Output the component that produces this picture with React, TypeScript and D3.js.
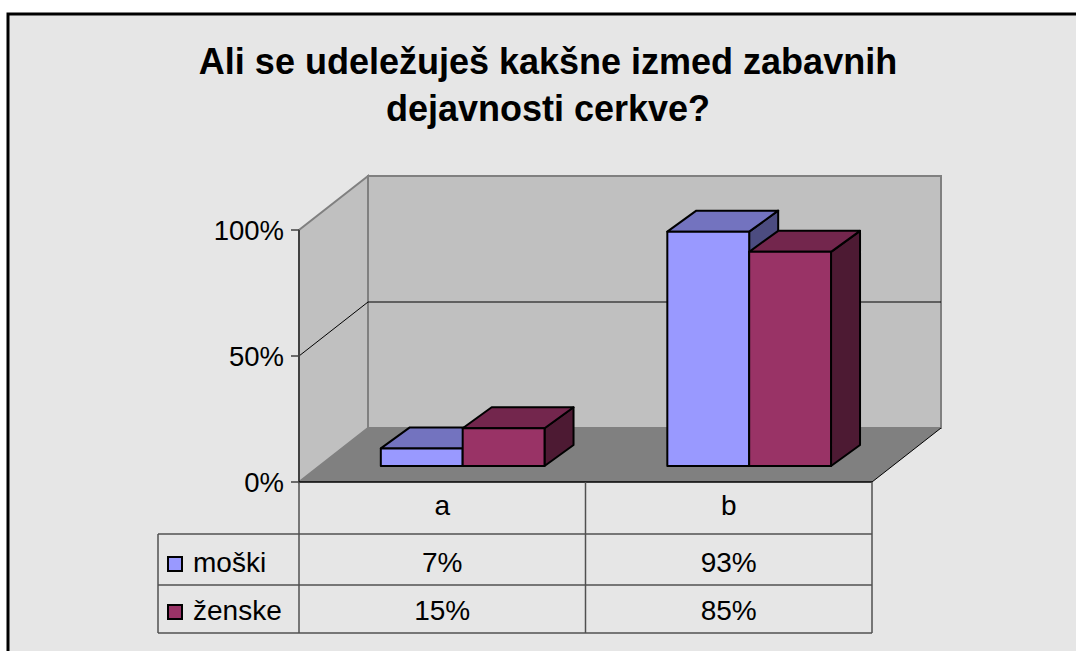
import * as d3 from "d3";

const categories = ["a", "b"];
const seriesNames = ["moški", "ženske"];
const moski = [0.07, 0.93];
const zenske = [0.15, 0.85];
const yTicks = [0, 0.5, 1];
const titleLines = ["Ali se udeležuješ kakšne izmed zabavnih", "dejavnosti cerkve?"];

const seriesValues = [moski, zenske];
const fills = [
  { front: "#9999ff", top: "#7373bf", side: "#4c4c80" },
  { front: "#993366", top: "#73264d", side: "#4d1a33" },
];

const FONT = "'Liberation Sans', Arial, sans-serif";

// plot geometry (oblique 3D)
const X0 = 299;
const X1 = 872;
const Y0 = 482;
const H = 252;
const DX = 69;
const DY = -54;
const D1 = 0.296; // bar front depth
const BDX = 29;
const BDY = -21;

export default function App() {
  const x = d3
    .scaleBand<string>()
    .domain(categories)
    .range([0, X1 - X0])
    .paddingInner(3 / 7)
    .paddingOuter(1.5 / 7);
  const xs = d3.scaleBand<number>().domain([0, 1]).range([0, x.bandwidth()]);
  const y = d3.scaleLinear().domain([0, 1]).range([0, H]);
  const colEdges = d3.scaleBand<string>().domain(categories).range([X0, X1]);

  const proj = (fx: number, v: number, d: number): [number, number] => [
    X0 + fx + DX * d,
    Y0 - v + DY * d,
  ];
  const pts = (p: [number, number][]) => p.map((q) => q.join(",")).join(" ");

  const back = [proj(0, 0, 1), proj(X1 - X0, 0, 1), proj(X1 - X0, H, 1), proj(0, H, 1)];
  const left = [proj(0, 0, 0), proj(0, 0, 1), proj(0, H, 1), proj(0, H, 0)];
  const floor = [proj(0, 0, 0), proj(X1 - X0, 0, 0), proj(X1 - X0, 0, 1), proj(0, 0, 1)];

  const bars: JSX.Element[] = [];
  categories.forEach((c, ci) => {
    seriesValues.forEach((vals, si) => {
      const [xl, yb] = proj((x(c) ?? 0) + (xs(si) ?? 0), 0, D1);
      const xr = xl + xs.bandwidth();
      const yt = yb - y(vals[ci]);
      const f = fills[si];
      bars.push(
        <g key={`${c}-${si}`} stroke="#000" strokeWidth={2} strokeLinejoin="round">
          <polygon
            points={pts([[xr, yt], [xr + BDX, yt + BDY], [xr + BDX, yb + BDY], [xr, yb]])}
            fill={f.side}
          />
          <polygon
            points={pts([[xl, yt], [xr, yt], [xr + BDX, yt + BDY], [xl + BDX, yt + BDY]])}
            fill={f.top}
          />
          <rect x={xl} y={yt} width={xr - xl} height={yb - yt} fill={f.front} />
        </g>
      );
    });
  });

  const tableLeft = 158;
  const rowY = [482, 534, 585, 633];
  const lineColor = "#505050";

  return (
    <svg
      width={1076}
      height={651}
      style={{ position: "absolute", left: 0, top: 0, background: "#fff", overflow: "hidden" }}
      fontFamily={FONT}
    >
      <rect x={8} y={14} width={1200} height={800} fill="#e6e6e6" stroke="#000" strokeWidth={3} />

      {titleLines.map((t, i) => (
        <text
          key={i}
          x={548}
          y={74 + i * 47}
          textAnchor="middle"
          fontSize={36}
          fontWeight="bold"
          fill="#000"
        >
          {t}
        </text>
      ))}

      {/* walls */}
      <polygon points={pts(back)} fill="#c0c0c0" stroke="#808080" strokeWidth={2} />
      <polygon points={pts(left)} fill="#c0c0c0" stroke="#808080" strokeWidth={2} />
      <polygon points={pts(floor)} fill="#808080" />
      <line
        x1={proj(X1 - X0, 0, 0)[0]}
        y1={proj(X1 - X0, 0, 0)[1]}
        x2={proj(X1 - X0, 0, 1)[0]}
        y2={proj(X1 - X0, 0, 1)[1]}
        stroke="#000"
        strokeWidth={1}
      />

      {/* gridlines */}
      {yTicks
        .filter((t) => t > 0 && t < 1)
        .map((t) => {
          const a = proj(0, y(t), 0);
          const b = proj(0, y(t), 1);
          const c = proj(X1 - X0, y(t), 1);
          return (
            <polyline
              key={t}
              points={pts([a, b, c])}
              fill="none"
              stroke="#000"
              strokeWidth={1}
            />
          );
        })}

      {bars}

      {/* value axis */}
      <line x1={X0} y1={Y0 - H} x2={X0} y2={Y0} stroke="#404040" strokeWidth={2} />
      {yTicks.map((t) => (
        <g key={t}>
          <line x1={X0 - 8} x2={X0} y1={Y0 - y(t)} y2={Y0 - y(t)} stroke="#404040" strokeWidth={1.5} />
          <text
            x={284}
            y={Y0 - y(t)}
            dy="0.36em"
            textAnchor="end"
            fontSize={27.5}
            fill="#000"
          >
            {d3.format(".0%")(t)}
          </text>
        </g>
      ))}

      {/* data table */}
      <g stroke={lineColor} strokeWidth={1.5}>
        <line x1={X0} x2={X1} y1={Y0} y2={Y0} stroke="#000" />
        {rowY.slice(1).map((ry) => (
          <line key={ry} x1={tableLeft} x2={X1} y1={ry} y2={ry} />
        ))}
        <line x1={tableLeft} x2={tableLeft} y1={rowY[1]} y2={rowY[3]} />
        <line x1={X0} x2={X0} y1={rowY[0]} y2={rowY[3]} />
        {categories.map((c) => (
          <line
            key={c}
            x1={(colEdges(c) ?? 0) + colEdges.bandwidth()}
            x2={(colEdges(c) ?? 0) + colEdges.bandwidth()}
            y1={rowY[0]}
            y2={rowY[3]}
          />
        ))}
      </g>
      {categories.map((c) => (
        <text
          key={c}
          x={(colEdges(c) ?? 0) + colEdges.bandwidth() / 2}
          y={515}
          textAnchor="middle"
          fontSize={28}
        >
          {c}
        </text>
      ))}
      {seriesNames.map((s, si) => {
        const base = si === 0 ? 572 : 620;
        return (
          <g key={s}>
            <rect
              x={168}
              y={base - 15}
              width={14}
              height={14}
              fill={fills[si].front}
              stroke="#000"
              strokeWidth={2}
            />
            <text x={193} y={base} fontSize={28}>
              {s}
            </text>
            {categories.map((c, ci) => (
              <text
                key={c}
                x={(colEdges(c) ?? 0) + colEdges.bandwidth() / 2}
                y={base}
                textAnchor="middle"
                fontSize={28}
              >
                {d3.format(".0%")(seriesValues[si][ci])}
              </text>
            ))}
          </g>
        );
      })}
    </svg>
  );
}
